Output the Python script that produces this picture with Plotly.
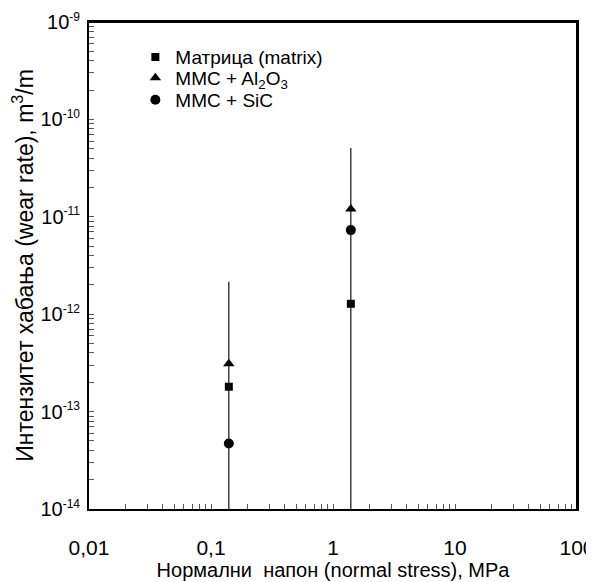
import plotly.graph_objects as go

# ---- data ----
stress = [0.14, 1.4]                      # MPa
matrix_rate = [1.8e-13, 1.28e-12]         # Матрица (matrix)
al2o3_rate = [3.1e-13, 1.2e-11]           # MMC + Al2O3
sic_rate = [4.7e-14, 7.3e-12]             # MMC + SiC
err_low = [1e-15, 1e-15]                  # error bar lower ends (below axis)
err_high = [2.15e-12, 5.1e-11]            # error bar upper ends

x_decades = [0.01, 0.1, 1, 10, 100]
x_labels = ["0,01", "0,1", "1", "10", "100"]
y_exponents = [-14, -13, -12, -11, -10, -9]

FONT = "Liberation Sans, Arial, sans-serif"

# all 1..9 multiples inside the range (tick marks only)
def minor_vals(decade_vals):
    vals = []
    for i, d in enumerate(decade_vals):
        vals.append(d)
        if i < len(decade_vals) - 1:
            for m in range(2, 10):
                vals.append(d * m)
    return vals

y_decades = [10.0 ** e for e in y_exponents]
y_labels = ["10<sup><span style='font-size:12px'>%d</span></sup>" % e
            for e in y_exponents]

fig = go.Figure()

# error bars (vertical lines) on the overlay axes that carry the labels
ex, ey = [], []
for xi, lo, hi in zip(stress, err_low, err_high):
    ex += [xi, xi, None]
    ey += [lo, hi, None]
fig.add_trace(go.Scatter(x=ex, y=ey, mode="lines", showlegend=False,
                         xaxis="x2", yaxis="y2",
                         line=dict(color="#111", width=1.2), hoverinfo="skip"))

fig.add_trace(go.Scatter(x=stress, y=matrix_rate, mode="markers",
                         name="Матрица (matrix)", legend="legend",
                         marker=dict(symbol="square", size=8, color="black")))
fig.add_trace(go.Scatter(x=stress, y=al2o3_rate, mode="markers",
                         name="MMC + Al<sub>2</sub>O<sub>3</sub>", legend="legend2",
                         marker=dict(symbol="triangle-up", size=10, color="black")))
fig.add_trace(go.Scatter(x=stress, y=sic_rate, mode="markers",
                         name="MMC + SiC", legend="legend3",
                         marker=dict(symbol="circle", size=10, color="black")))

tick_axis = dict(showgrid=False, zeroline=False, showline=True,
                 linecolor="black", linewidth=2, mirror=True,
                 ticks="inside", ticklen=5, tickcolor="#555", tickwidth=1,
                 showticklabels=False, automargin=False, tickmode="array")
label_axis = dict(showgrid=False, zeroline=False, showline=False,
                  ticks="outside", tickcolor="rgba(0,0,0,0)", tickwidth=1,
                  automargin=False, tickmode="array",
                  ticklabeloverflow="allow")

fig.update_layout(
    xaxis=dict(type="log", range=[-2, 2], tickvals=minor_vals(x_decades),
               **tick_axis),
    yaxis=dict(type="log", range=[-14, -9], tickvals=minor_vals(y_decades),
               **tick_axis),
    xaxis2=dict(type="log", range=[-2, 2], overlaying="x", anchor="y2",
                side="bottom", tickvals=x_decades, ticktext=x_labels,
                ticklen=20,
                tickfont=dict(family=FONT, size=21, color="black"),
                title=dict(text="Нормални  напон (normal stress), MPa",
                           font=dict(family=FONT, size=20, color="black"),
                           standoff=3),
                **label_axis),
    yaxis2=dict(type="log", range=[-14, -9], overlaying="y", anchor="x2",
                side="left", tickvals=y_decades, ticktext=y_labels,
                ticklen=4,
                tickfont=dict(family=FONT, size=20, color="black"),
                title=dict(text="Интензитет хабања (wear rate), m<sup>3</sup>/m",
                           font=dict(family=FONT, size=23, color="black"),
                           standoff=6),
                **label_axis),
)

leg_common = dict(x=0.095, xanchor="left", yanchor="middle",
                  bgcolor="rgba(0,0,0,0)", borderwidth=0,
                  font=dict(family=FONT, size=19, color="black"))

# the page body has an 8px default margin; margins compensate for it
fig.update_layout(
    width=594, height=582,
    margin=dict(l=81, r=25, t=14, b=81),
    paper_bgcolor="white", plot_bgcolor="white",
    font=dict(family=FONT, color="black"),
    legend=dict(y=0.928, **leg_common),
    legend2=dict(y=0.885, **leg_common),
    legend3=dict(y=0.840, **leg_common),
    shapes=[
        dict(type="line", xref="paper", yref="paper", x0=0, x1=1, y0=1, y1=1,
             line=dict(color="black", width=2), layer="above"),
        dict(type="line", xref="paper", yref="paper", x0=1, x1=1, y0=0, y1=1,
             line=dict(color="black", width=2), layer="above"),
    ],
)

fig.write_html("out.html")
